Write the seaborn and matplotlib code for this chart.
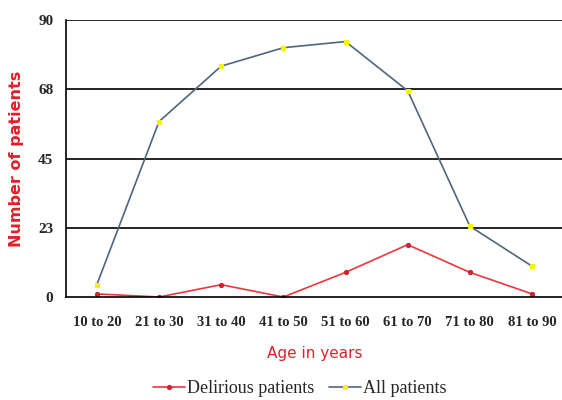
import matplotlib.pyplot as plt
import numpy as np
import pandas as pd
import seaborn as sns

age_groups = ['10 to 20', '21 to 30', '31 to 40', '41 to 50',
              '51 to 60', '61 to 70', '71 to 80', '81 to 90']
delirious = [1, 0, 4, 0, 8, 17, 8, 1]
all_patients = [4, 57, 75, 81, 83, 67, 23, 10]
y_ticks = [0, 22.5, 45, 67.5, 90]
y_labels = ['0', '23', '45', '68', '90']

sns.set_style('white')

x = np.arange(len(age_groups))
df = pd.DataFrame({'x': np.concatenate([x, x]),
                   'value': delirious + all_patients,
                   'series': ['Delirious patients'] * len(x) + ['All patients'] * len(x)})

fig = plt.figure(figsize=(5.62, 4.0), dpi=100)
ax = fig.add_axes([0.117, 0.2575, 0.885, 0.6925])

for y in y_ticks[1:]:
    ax.axhline(y, color='black', lw=1.2, zorder=0)

sns.lineplot(data=df[df.series == 'Delirious patients'], x='x', y='value', ax=ax,
             color='#e8383d', lw=1.2, marker='o', markersize=3,
             markerfacecolor='#d42030', markeredgecolor='#d42030',
             label='Delirious patients')
sns.lineplot(data=df[df.series == 'All patients'], x='x', y='value', ax=ax,
             color='#50657f', lw=1.2, marker='s', markersize=3.5,
             markerfacecolor='#f5f500', markeredgecolor='#f5f500',
             label='All patients')

ax.set_xlim(-0.5, 7.5)
ax.set_ylim(0, 90)
ax.set_yticks(y_ticks)
ax.set_yticklabels(y_labels, fontfamily='Liberation Serif', fontweight='bold', fontsize=11)
ax.set_xticks(x)
ax.set_xticklabels(age_groups, fontfamily='Liberation Serif', fontweight='bold', fontsize=10.5)
ax.set_xticks(np.arange(-0.5, 8, 1), minor=True)
ax.tick_params(axis='x', which='major', length=0, pad=14)
ax.tick_params(axis='x', which='minor', length=5, width=1, direction='out', color='black')
ax.tick_params(axis='y', length=5, width=1, direction='out', color='black', pad=4)

for s in ['top', 'right']:
    ax.spines[s].set_visible(False)
for s in ['left', 'bottom']:
    ax.spines[s].set_color('black')
    ax.spines[s].set_linewidth(1.2)

ax.set_xlabel('Age in years', color='#e0202a', fontsize=11, labelpad=12)
ax.set_ylabel('Number of patients', color='#e0202a', fontsize=11.5, fontweight='bold', labelpad=10)

ax.legend(loc='center', bbox_to_anchor=(0.47, -0.33), ncol=2, frameon=False,
          prop={'family': 'Liberation Serif', 'size': 13}, handlelength=1.8,
          handletextpad=0.1, columnspacing=0.8)

fig.savefig('out.png', dpi=100)
